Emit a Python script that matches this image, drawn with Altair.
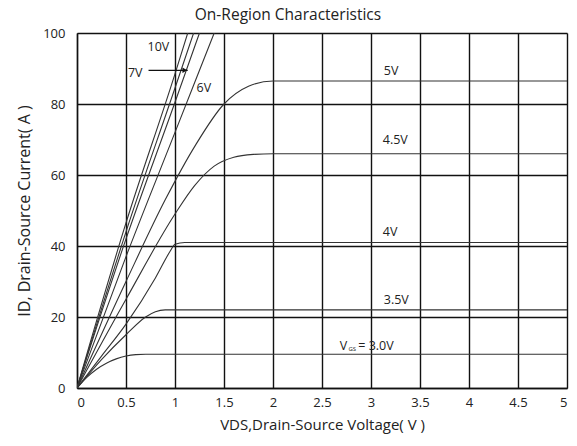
import altair as alt
import pandas as pd

FONT = "Open Sans"

# VGS curves: (Vds values, Id values)
vgs_names = ["3.0V", "3.5V", "4V", "4.5V", "5V", "6V", "7V", "8V", "10V"]
vds_30 = [0, 0.1, 0.2, 0.3, 0.4, 0.5, 0.6, 0.7, 5]
id_30 = [0, 3, 5.3, 7, 8.2, 9, 9.4, 9.5, 9.5]
vds_35 = [0, 0.25, 0.5, 0.7, 0.8, 0.9, 5]
id_35 = [0, 8, 15, 20, 21.5, 22, 22]
vds_40 = [0, 0.25, 0.5, 0.8, 0.95, 1.0, 1.1, 5]
id_40 = [0, 9, 18, 31, 38.5, 40.5, 41, 41]
vds_45 = [0, 0.5, 1.0, 1.2, 1.4, 1.6, 1.8, 2.0, 5]
id_45 = [0, 25, 49, 57, 62.5, 65, 65.8, 66, 66]
vds_50 = [0, 0.5, 0.9, 1.2, 1.5, 1.75, 2.0, 5]
id_50 = [0, 30, 53, 68, 80, 85, 86.5, 86.5]
vds_60 = [0, 0.5, 1.0, 1.4]
id_60 = [0, 37, 72, 100]
vds_70 = [0, 0.5, 1.0, 1.25]
id_70 = [0, 42, 80.5, 100]
vds_80 = [0, 0.5, 1.0, 1.19]
id_80 = [0, 44, 84.5, 100]
vds_10 = [0, 0.5, 1.0, 1.13]
id_10 = [0, 46.5, 88.5, 100]

all_vds = [vds_30, vds_35, vds_40, vds_45, vds_50, vds_60, vds_70, vds_80, vds_10]
all_id = [id_30, id_35, id_40, id_45, id_50, id_60, id_70, id_80, id_10]

rows = []
for name, xs_, ys_ in zip(vgs_names, all_vds, all_id):
    for i, (x, y) in enumerate(zip(xs_, ys_)):
        rows.append({"vgs": name, "vds": x, "id": y, "order": i})
df = pd.DataFrame(rows)

# curve labels
lab_text = ["10V", "7V", "6V", "5V", "4.5V", "4V", "3.5V", "= 3.0V"]
lab_x = [0.72, 0.52, 1.22, 3.13, 3.12, 3.12, 3.13, 2.87]
lab_y = [96.0, 88.8, 84.5, 89.3, 70.0, 44.0, 24.8, 11.8]
labels = pd.DataFrame({"t": lab_text, "x": lab_x, "y": lab_y})

vlab = pd.DataFrame({"t": ["V"], "x": [2.68], "y": [11.8]})
gslab = pd.DataFrame({"t": ["GS"], "x": [2.77], "y": [11.0]})

title_df = pd.DataFrame({"t": ["On-Region Characteristics"]})

# 7V arrow
arrow = pd.DataFrame({"x": [0.73], "x2": [1.13], "y": [89.5]})
arrow_head = pd.DataFrame({"x": [1.10], "y": [89.5]})

x_ticks = [0, 0.5, 1, 1.5, 2, 2.5, 3, 3.5, 4, 4.5, 5]
y_ticks = [0, 20, 40, 60, 80, 100]

xs = alt.Scale(domain=[0, 5], nice=False)
ys = alt.Scale(domain=[0, 100], nice=False)

xaxis = alt.Axis(values=x_ticks, format="~g", title="VDS,Drain-Source Voltage( V )",
                 grid=True, gridColor="#111", gridWidth=1.4, gridOpacity=1,
                 domainColor="#111", domainWidth=1.4, ticks=False,
                 labelFont=FONT, labelFontSize=13, labelColor="#222", labelPadding=8,
                 titleFont=FONT, titleFontSize=15, titleFontWeight="normal", titleColor="#222",
                 titlePadding=8)
yaxis = alt.Axis(values=y_ticks, title="ID, Drain-Source Current( A )",
                 grid=True, gridColor="#111", gridWidth=1.4, gridOpacity=1,
                 domainColor="#111", domainWidth=1.4, ticks=False,
                 labelFont=FONT, labelFontSize=13, labelColor="#222", labelPadding=12,
                 titleFont=FONT, titleFontSize=16, titleFontWeight="normal", titleColor="#222",
                 titlePadding=10)

lines = alt.Chart(df).mark_line(color="#333", strokeWidth=1.1, interpolate="monotone", clip=True).encode(
    x=alt.X("vds:Q", scale=xs, axis=xaxis),
    y=alt.Y("id:Q", scale=ys, axis=yaxis),
    detail="vgs:N",
    order="order:Q",
)

text = alt.Chart(labels).mark_text(font=FONT, fontSize=12.5, color="#222", align="left", baseline="middle").encode(
    x=alt.X("x:Q", scale=xs), y=alt.Y("y:Q", scale=ys), text="t:N")
vtext = alt.Chart(vlab).mark_text(font=FONT, fontSize=12.5, color="#222", align="left", baseline="middle").encode(
    x=alt.X("x:Q", scale=xs), y=alt.Y("y:Q", scale=ys), text="t:N")
gstext = alt.Chart(gslab).mark_text(font=FONT, fontSize=6, color="#222", align="left", baseline="middle").encode(
    x=alt.X("x:Q", scale=xs), y=alt.Y("y:Q", scale=ys), text="t:N")

title_mark = alt.Chart(title_df).mark_text(font=FONT, fontSize=15.5, color="#222", align="center",
                                           baseline="middle", clip=False).encode(
    x=alt.value(211), y=alt.value(-18), text="t:N")

arr = alt.Chart(arrow).mark_rule(color="#111", strokeWidth=1.2).encode(
    x=alt.X("x:Q", scale=xs), x2="x2:Q", y=alt.Y("y:Q", scale=ys))
head = alt.Chart(arrow_head).mark_point(shape="triangle-right", filled=True, color="#111", size=30, opacity=1).encode(
    x=alt.X("x:Q", scale=xs), y=alt.Y("y:Q", scale=ys))

chart = alt.layer(lines, text, vtext, gstext, arr, head, title_mark).properties(
    width=490, height=355,
    autosize=alt.AutoSizeParams(type="none"),
    padding={"left": 69, "top": 25, "right": 2, "bottom": 49},
).configure_view(stroke="#111", strokeWidth=1.4).configure(background="white")

chart.save("out.html", embed_options={"renderer": "svg", "actions": False})
